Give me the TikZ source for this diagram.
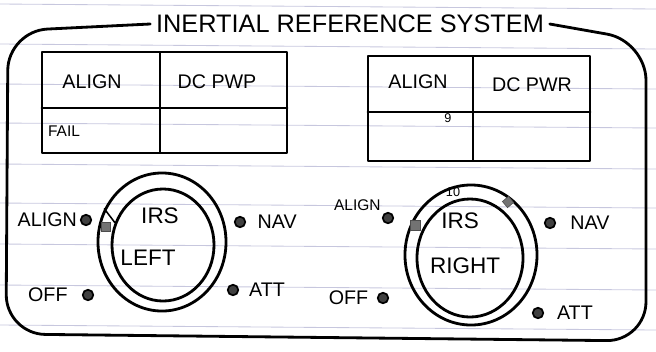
\documentclass[tikz,border=0pt]{standalone}
\usepackage{fontspec}
\setmainfont{Liberation Sans}
\usetikzlibrary{positioning,shapes.geometric}

\begin{document}
\begin{tikzpicture}[x=0.025cm, y=-0.025cm,
    ink/.style={line width=2pt, line join=round, line cap=round},
    thinink/.style={line width=1.1pt, line cap=round},
    lbl/.style={font=\fontsize{14}{16}\selectfont, inner sep=1pt},
    knoblbl/.style={font=\fontsize{16}{18}\selectfont, inner sep=1pt},
    knobdot/.style={circle, draw=black, fill=black!75, line width=1.2pt, minimum size=7.5pt, inner sep=0pt},
    ring/.style={ellipse, draw, line width=2pt, inner sep=0pt},
    pointermark/.style={fill=black!55, draw=black!70}]
    \useasboundingbox (0,0) rectangle (656,351);

    % Ruled paper
    \foreach \y in {4,44,84,123,164,203,244,285,325}
        \draw[blue!25!gray!35, line width=0.6pt] (0,\y) -- (656,\y+5);

    % Title and frame
    \node[font=\fontsize{18}{20}\selectfont, inner sep=4pt] (title) at (350,24) {INERTIAL REFERENCE SYSTEM};
    \draw[ink, rounded corners=28] (title.west) -- (8,31) -- (6,334) -- (646,341) -- (646,41) -- (title.east);

    % Left annunciator
    \draw[ink] (42,52) rectangle (287,153);
    \draw[thinink] (160,52) -- (160,153);
    \draw[ink] (42,108) -- (287,108);
    \node[lbl] (alignL) at (92,82) {ALIGN};
    \node[lbl] (pwrL) at (217,82) {DC PWP};
    \node[lbl, font=\fontsize{11}{13}\selectfont] (failL) at (64,131) {FAIL};

    % Right annunciator
    \draw[ink] (368,56) rectangle (590,161);
    \draw[thinink] (473,56) -- (473,161);
    \draw[ink] (368,112) -- (590,112);
    \node[lbl] (alignR) at (418,82) {ALIGN};
    \node[lbl] (pwrR) at (532,85) {DC PWR};
    \node[lbl, font=\fontsize{9}{10}\selectfont] (nine) at (448,118) {9};

    % Left mode selector
    \node[ring, minimum width=3.2cm, minimum height=3.45cm] (outerL) at (162,242) {};
    \node[ring, minimum width=2.55cm, minimum height=2.8cm] (innerL) at (163,245) {};
    \node[knoblbl] (irsL) at (160,216) {IRS};
    \node[knoblbl] (sideL) at (148,258) {LEFT};
    \fill[pointermark] (101,222) rectangle (110,231);
    \draw[thinink] (outerL.150) -- (innerL.155);

    \node[knobdot] (dotLalign) at (86,220) {};
    \node[knobdot] (dotLoff) at (88,295) {};
    \node[knobdot] (dotLnav) at (240,222) {};
    \node[knobdot] (dotLatt) at (233,290) {};
    \node[lbl, left=1pt of dotLalign] (txtLalign) {ALIGN};
    \node[lbl, left=9pt of dotLoff] (txtLoff) {OFF};
    \node[lbl, right=7pt of dotLnav] (txtLnav) {NAV};
    \node[lbl, right=6pt of dotLatt] (txtLatt) {ATT};

    % Right mode selector
    \node[ring, minimum width=3.3cm, minimum height=3.5cm] (outerR) at (471,255) {};
    \node[ring, minimum width=2.65cm, minimum height=2.95cm] (innerR) at (470,258) {};
    \node[knoblbl] (irsR) at (460,221) {IRS};
    \node[knoblbl] (sideR) at (465,266) {RIGHT};
    \node[lbl, font=\fontsize{9}{10}\selectfont] (ten) at (453,192) {10};
    \fill[pointermark] (410,220) rectangle (420,230);
    \fill[pointermark, rotate around={40:(508,202)}] (504,198) rectangle (512,206);

    \node[knobdot] (dotRalign) at (388,218) {};
    \node[knobdot] (dotRoff) at (383,298) {};
    \node[knobdot] (dotRnav) at (550,223) {};
    \node[knobdot] (dotRatt) at (538,313) {};
    \node[lbl, font=\fontsize{11}{13}\selectfont, above left=1pt and 1pt of dotRalign] (txtRalign) {ALIGN};
    \node[lbl, left=5pt of dotRoff] (txtRoff) {OFF};
    \node[lbl, right=9pt of dotRnav] (txtRnav) {NAV};
    \node[lbl, right=8pt of dotRatt] (txtRatt) {ATT};
\end{tikzpicture}
\end{document}
